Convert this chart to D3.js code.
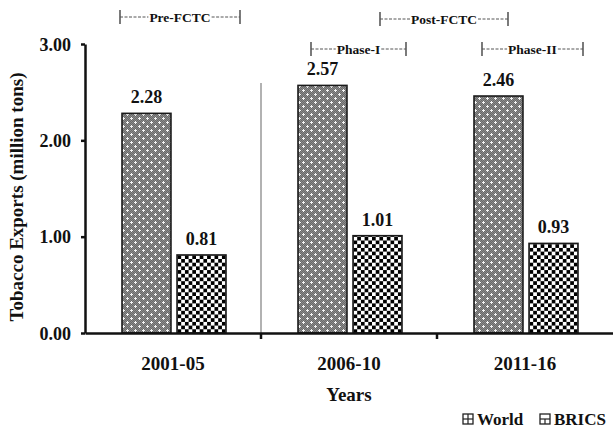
<!DOCTYPE html>
<html><head><meta charset="utf-8">
<script src="https://cdn.jsdelivr.net/npm/d3@7"></script>
<style>body{margin:0;background:#fff}svg{display:block}text{font-family:"Liberation Serif","Times New Roman",serif;font-weight:bold;fill:#111}</style>
</head><body><div id="chart"></div>
<script>
const categories = ["2001-05", "2006-10", "2011-16"];
const seriesNames = ["World", "BRICS"];
const worldValues = [2.28, 2.57, 2.46];
const bricsValues = [0.81, 1.01, 0.93];
const yTicks = [0, 1, 2, 3];
const periodLabels = [
  {text: "Pre-FCTC", x0: 120, x1: 240, y: 17},
  {text: "Post-FCTC", x0: 380, x1: 508, y: 19},
  {text: "Phase-I", x0: 311, x1: 406, y: 49},
  {text: "Phase-II", x0: 482, x1: 583, y: 49}
];

const W = 613, H = 429;
const m = {left: 85, right: 0};
const svg = d3.select("#chart").append("svg").attr("width", W).attr("height", H);
const defs = svg.append("defs");

const P = 8;
const pw = defs.append("pattern").attr("id", "pWorld").attr("patternUnits", "userSpaceOnUse")
  .attr("width", P).attr("height", P);
pw.append("rect").attr("width", P).attr("height", P).attr("fill", "#8c8c8c");
for (let i = 0; i < P; i++) for (let j = 0; j < P; j++) if ((i + j) % 2 === 0)
  pw.append("rect").attr("x", i).attr("y", j).attr("width", 1).attr("height", 1).attr("fill", "#6a6a6a");
[[2, 2], [6, 6]].forEach(([cx, cy]) => {
  pw.append("rect").attr("x", cx - 1).attr("y", cy).attr("width", 3).attr("height", 1).attr("fill", "#f4f4f4");
  pw.append("rect").attr("x", cx).attr("y", cy - 1).attr("width", 1).attr("height", 3).attr("fill", "#f4f4f4");
});
const C = 3.7;
const pb = defs.append("pattern").attr("id", "pBRICS").attr("patternUnits", "userSpaceOnUse")
  .attr("width", 2 * C).attr("height", 2 * C);
pb.append("rect").attr("width", 2 * C).attr("height", 2 * C).attr("fill", "#fff");
pb.append("rect").attr("x", 0).attr("y", 0).attr("width", C).attr("height", C).attr("fill", "#000");
pb.append("rect").attr("x", C).attr("y", C).attr("width", C).attr("height", C).attr("fill", "#000");

const x = d3.scaleBand().domain(categories).range([m.left, W - m.right]).paddingInner(0).paddingOuter(0);
const y = d3.scaleLinear().domain([0, 3]).range([333, 44]);
const xs = d3.scaleBand().domain(seriesNames).range([37, 37 + 104]).paddingInner(0.11);

const data = categories.map((c, i) => ({c, vals: [
  {s: "World", v: worldValues[i]}, {s: "BRICS", v: bricsValues[i]}]}));

svg.append("line").attr("x1", x("2006-10")).attr("x2", x("2006-10"))
  .attr("y1", 83).attr("y2", y(0)).attr("stroke", "#999").attr("stroke-width", 1.5);

const g = svg.selectAll("g.grp").data(data).join("g").attr("class", "grp")
  .attr("transform", d => `translate(${x(d.c)},0)`);
g.selectAll("rect").data(d => d.vals).join("rect")
  .attr("x", d => xs(d.s)).attr("width", xs.bandwidth())
  .attr("y", d => y(d.v)).attr("height", d => y(0) - y(d.v))
  .attr("fill", d => d.s === "World" ? "url(#pWorld)" : "url(#pBRICS)")
  .attr("stroke", "#1a1a1a").attr("stroke-width", 1.6);
g.selectAll("text.val").data(d => d.vals).join("text").attr("class", "val")
  .attr("x", d => xs(d.s) + xs.bandwidth() / 2).attr("y", d => y(d.v) - 10)
  .attr("text-anchor", "middle").attr("font-size", 18).text(d => d.v.toFixed(2));

const ya = svg.append("g").attr("transform", `translate(${m.left},0)`)
  .call(d3.axisLeft(y).tickValues(yTicks).tickFormat(d3.format(".2f")).tickSize(4).tickSizeOuter(0));
ya.select(".domain").attr("stroke", "#111").attr("stroke-width", 2.5);
ya.selectAll(".tick line").attr("stroke", "#111").attr("stroke-width", 2.5);
ya.selectAll(".tick text").attr("font-size", 18).attr("x", -14).attr("dy", "0.35em")
  .style("font-family", "Liberation Serif").style("font-weight", "bold").attr("fill", "#111");

const xa = svg.append("g").attr("transform", `translate(0,${y(0)})`)
  .call(d3.axisBottom(x).tickSize(0).tickSizeOuter(0));
xa.select(".domain").attr("stroke", "#111").attr("stroke-width", 2.5);
xa.selectAll(".tick text").attr("font-size", 19).attr("dy", 0).attr("y", 37)
  .style("font-family", "Liberation Serif").style("font-weight", "bold").attr("fill", "#111");
categories.slice(1).forEach(c => {
  svg.append("line").attr("x1", x(c)).attr("x2", x(c)).attr("y1", y(0)).attr("y2", y(0) + 6)
    .attr("stroke", "#111").attr("stroke-width", 2.5);
});

svg.append("text").attr("transform", `translate(23,${197}) rotate(-90)`)
  .attr("text-anchor", "middle").attr("font-size", 19).text("Tobacco Exports (million tons)");
svg.append("text").attr("x", x("2006-10") + x.bandwidth() / 2).attr("y", 401)
  .attr("text-anchor", "middle").attr("font-size", 19).text("Years");

periodLabels.forEach(p => {
  const gg = svg.append("g");
  const t = gg.append("text").attr("x", (p.x0 + p.x1) / 2).attr("y", p.y + 4.5)
    .attr("text-anchor", "middle").attr("font-size", 13.5).text(p.text);
  const bb = t.node().getBBox();
  gg.append("line").attr("x1", p.x0).attr("x2", p.x0).attr("y1", p.y - 7).attr("y2", p.y + 7).attr("stroke", "#333").attr("stroke-width", 1.3);
  gg.append("line").attr("x1", p.x1).attr("x2", p.x1).attr("y1", p.y - 7).attr("y2", p.y + 7).attr("stroke", "#333").attr("stroke-width", 1.3);
  gg.append("line").attr("x1", p.x0).attr("x2", bb.x - 1).attr("y1", p.y).attr("y2", p.y).attr("stroke", "#555").attr("stroke-dasharray", "3,1.5").attr("stroke-width", 1);
  gg.append("line").attr("x1", bb.x + bb.width + 1).attr("x2", p.x1).attr("y1", p.y).attr("y2", p.y).attr("stroke", "#555").attr("stroke-dasharray", "3,1.5").attr("stroke-width", 1);
});

const legend = [{s: "World", x: 463}, {s: "BRICS", x: 540}];
legend.forEach(l => {
  svg.append("rect").attr("x", l.x).attr("y", 414).attr("width", 10).attr("height", 10)
    .attr("fill", "#fff").attr("stroke", "#222").attr("stroke-width", 1.3);
  svg.append("line").attr("x1", l.x).attr("x2", l.x + 10).attr("y1", 419).attr("y2", 419).attr("stroke", "#222").attr("stroke-width", 1.2);
  if (l.s === "World") {
    svg.append("line").attr("x1", l.x + 5).attr("x2", l.x + 5).attr("y1", 414).attr("y2", 424).attr("stroke", "#222").attr("stroke-width", 1.2);
  } else {
    svg.append("line").attr("x1", l.x + 5).attr("x2", l.x + 5).attr("y1", 419).attr("y2", 424).attr("stroke", "#222").attr("stroke-width", 1.2);
  }
  svg.append("text").attr("x", l.x + 14).attr("y", 425).attr("font-size", 17).text(l.s);
});
</script></body></html>
